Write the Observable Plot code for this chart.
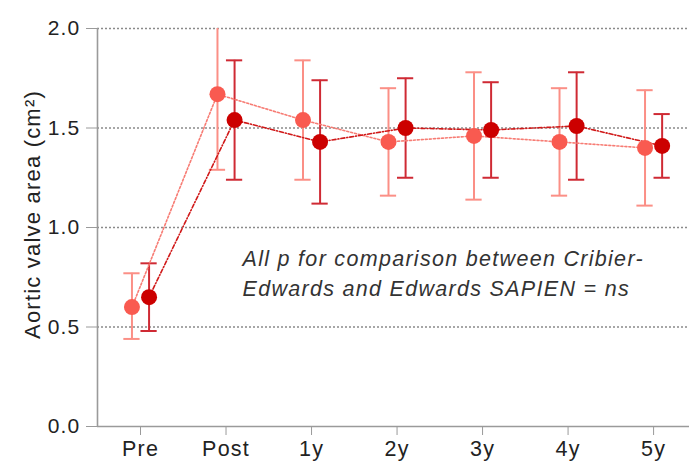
<!DOCTYPE html>
<html>
<head>
<meta charset="utf-8">
<script src="https://cdn.jsdelivr.net/npm/d3@7"></script>
<script src="https://cdn.jsdelivr.net/npm/@observablehq/plot@0.6"></script>
<style>
  html, body { margin: 0; padding: 0; background: #fff; }
  #chart svg { display: block; }
</style>
</head>
<body>
<div id="chart"></div>
<script>
const timepoints = ["Pre", "Post", "1y", "2y", "3y", "4y", "5y"];
const cribierMean = [0.60, 1.67, 1.54, 1.43, 1.46, 1.43, 1.40];
const cribierLow  = [0.44, 1.29, 1.24, 1.16, 1.14, 1.16, 1.11];
const cribierHigh = [0.77, 2.05, 1.84, 1.70, 1.78, 1.70, 1.69];
const sapienMean  = [0.65, 1.54, 1.43, 1.50, 1.49, 1.51, 1.41];
const sapienLow   = [0.48, 1.24, 1.12, 1.25, 1.25, 1.24, 1.25];
const sapienHigh  = [0.82, 1.84, 1.74, 1.75, 1.73, 1.78, 1.57];
const yTicks = [0, 0.5, 1.0, 1.5, 2.0];
const yLabel = "Aortic valve area (cm²)";
const note = "All p for comparison between Cribier-\nEdwards and Edwards SAPIEN = ns";

const offset = 0.1, cap = 0.095;
function build(mean, low, high, shift) {
  return timepoints.map((t, i) => ({t, pos: i + shift, mean: mean[i], low: low[i], high: high[i]}));
}
const cribier = build(cribierMean, cribierLow, cribierHigh, -offset);
const sapien = build(sapienMean, sapienLow, sapienHigh, offset);

const lightDot = "#f95a50", lightBar = "#fb8f86", lightLine = "#f77c74";
const darkDot = "#cc0000", darkBar = "#cf2a34", darkLine = "#d01818";
const font = "Liberation Sans, Arial, Helvetica, sans-serif";

function errorMarks(data, color) {
  return [
    Plot.ruleX(data, {x: "pos", y1: "low", y2: "high", stroke: color, strokeWidth: 2, clip: true}),
    Plot.ruleY(data, {y: "high", x1: d => d.pos - cap, x2: d => d.pos + cap, stroke: color, strokeWidth: 2, clip: true}),
    Plot.ruleY(data, {y: "low", x1: d => d.pos - cap, x2: d => d.pos + cap, stroke: color, strokeWidth: 2, clip: true})
  ];
}

const chart = Plot.plot({
  width: 689,
  height: 466,
  marginLeft: 97,
  marginRight: 0,
  marginTop: 28,
  marginBottom: 40,
  style: {fontFamily: font, background: "#fff"},
  x: {type: "linear", domain: [-0.503, 6.42]},
  y: {domain: [0, 2]},
  marks: [
    Plot.ruleY(yTicks.filter(v => v > 0), {stroke: "#8a8a8a", strokeDasharray: "2,2", strokeWidth: 1.3}),
    Plot.ruleX([-0.503], {stroke: "#9a9a9a", strokeWidth: 1.6}),
    Plot.ruleY([0], {stroke: "#9a9a9a", strokeWidth: 1.6}),
    Plot.axisY({ticks: yTicks, tickFormat: d3.format(".1f"), tickSize: 11, tickPadding: 6, fontSize: 21, stroke: "#9a9a9a", fill: "#222", label: null}),
    Plot.axisX({ticks: d3.range(timepoints.length), tickFormat: i => timepoints[i], tickSize: 9, tickPadding: 5, fontSize: 21.5, stroke: "#9a9a9a", fill: "#222", label: null}),
    Plot.text([yLabel], {frameAnchor: "left", textAnchor: "middle", dx: -65, dy: -13, rotate: -90, fontSize: 22, fill: "#222"}),
    Plot.text([note], {frameAnchor: "top-left", textAnchor: "start", lineAnchor: "top", dx: 145, dy: 216, lineHeight: 1.4, fontSize: 21.5, fontStyle: "italic", fill: "#333"}),
    ...errorMarks(cribier, lightBar),
    ...errorMarks(sapien, darkBar),
    Plot.line(cribier, {x: "pos", y: "mean", stroke: lightLine, strokeWidth: 1.6, strokeDasharray: "2,2"}),
    Plot.line(sapien, {x: "pos", y: "mean", stroke: darkLine, strokeWidth: 1.6, strokeDasharray: "4,2,1,2"}),
    Plot.dot(cribier, {x: "pos", y: "mean", r: 8, fill: lightDot, stroke: "none"}),
    Plot.dot(sapien, {x: "pos", y: "mean", r: 8, fill: darkDot, stroke: "none"})
  ]
});
const svg = d3.select(chart);
svg.selectAll("text").attr("letter-spacing", "1.2px");
svg.selectAll("g[font-style='italic'] text").attr("letter-spacing", "1.3px");
document.getElementById("chart").appendChild(chart);
</script>
</body>
</html>
